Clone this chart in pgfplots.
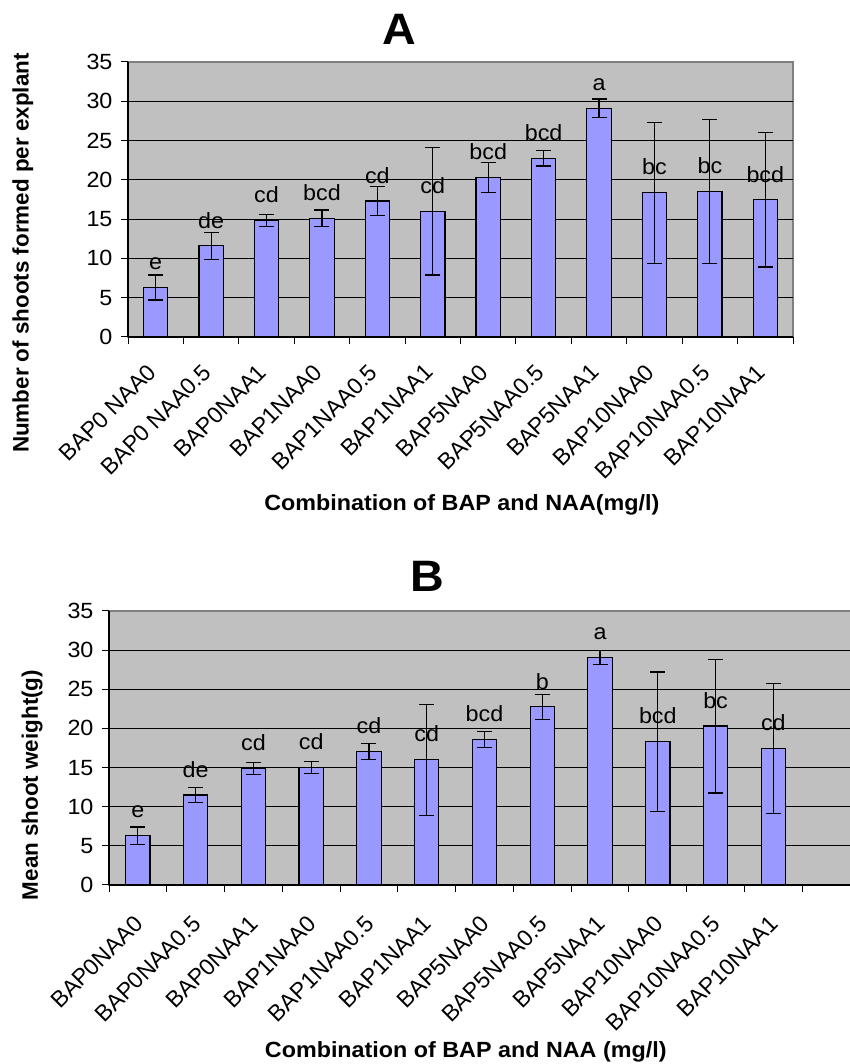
\documentclass[border=0pt]{standalone}
\usepackage{fontspec}
\setmainfont{Liberation Sans}
\newfontfamily\widefont[FakeStretch=1.06]{Liberation Sans}
\usepackage{pgfplots}
\usepackage{pgfplotstable}
\pgfplotsset{compat=1.18}
\definecolor{excelgray}{RGB}{192,192,192}
\definecolor{barblue}{RGB}{153,153,255}
\definecolor{framegray}{RGB}{128,128,128}

\pgfplotstableread{
x y e l
0 6.3 1.6 e
1 11.6 1.7 de
2 14.85 0.75 cd
3 15.1 1.05 bcd
4 17.3 1.85 cd
5 16.0 8.1 cd
6 20.3 1.9 bcd
7 22.75 1.0 bcd
8 29.1 1.2 a
9 18.35 8.95 bc
10 18.55 9.15 bc
11 17.45 8.55 bcd
}\dataA

\pgfplotstableread{
x y e l
0 6.3 1.1 e
1 11.5 1.0 de
2 14.85 0.75 cd
3 15.0 0.8 cd
4 17.05 1.0 cd
5 16.0 7.1 cd
6 18.6 1.0 bcd
7 22.75 1.6 b
8 29.05 0.9 a
9 18.3 8.9 bcd
10 20.3 8.55 bc
11 17.45 8.3 cd
}\dataB

\pgfplotsset{
  excelbars/.style={
    scale only axis,
    ymin=0, ymax=35,
    ytick={0,5,...,30},
    extra y ticks={35},
    extra y tick style={grid=none},
    ymajorgrids,
    grid style={black, line width=0.9pt},
    axis x line*=bottom, axis y line*=left,
    axis line style={black, line width=1.2pt},
    axis background/.style={fill=excelgray, draw=framegray, line width=1.2pt},
    tick align=outside,
    major tick length=7pt, minor tick length=7pt,
    tick style={black, line width=1pt},
    major x tick style={draw=none},
    /pgf/number format/assume math mode=true,
    yticklabel style={font=\widefont\fontsize{22pt}{25pt}\selectfont, xshift=-5pt},
    xticklabel style={font=\fontsize{23pt}{26pt}\selectfont, inner sep=0pt, rotate=45, anchor=north east},
    xlabel style={font=\widefont\bfseries\fontsize{22pt}{26pt}\selectfont},
    ylabel style={font=\bfseries\fontsize{22.4pt}{26pt}\selectfont},
    title style={font=\widefont\bfseries\fontsize{44pt}{48pt}\selectfont, anchor=center},
    xtick={0,...,11},
  },
  excelseries/.style={
    ybar, bar width=24.3pt, fill=barblue, draw=black, line width=1.2pt,
    bar shift=0pt,
    point meta=explicit symbolic,
    nodes near coords,
    every node near coord/.append style={font=\widefont\fontsize{22pt}{25pt}\selectfont, text=black, inner sep=0pt, anchor=south, yshift=17pt},
    error bars/.cd, y dir=both, y explicit,
    error bar style={black, line width=1.2pt},
    error mark options={rotate=90, mark size=7.5pt, line width=1.2pt, black},
  },
}

\begin{document}
\begin{tikzpicture}
\path[use as bounding box] (0pt,0pt) rectangle (849pt,1064pt);

\begin{axis}[excelbars,
  at={(128pt,727pt)}, anchor=south west,
  width=665pt, height=275pt,
  xmin=-0.5, xmax=11.5,
  minor xtick={-0.5,0.5,...,11.5},
  xticklabel style={xshift=-20pt, yshift=-6pt},
  xticklabels={BAP0 NAA0,BAP0 NAA0.5,BAP0NAA1,BAP1NAA0,BAP1NAA0.5,BAP1NAA1,BAP5NAA0,BAP5NAA0.5,BAP5NAA1,BAP10NAA0,BAP10NAA0.5,BAP10NAA1},
  title={A}, title style={at={(axis description cs:0.4075,1.098)}},
  ylabel={Number of shoots formed per explant},
  ylabel style={at={(axis description cs:-0.158,0.305)}, anchor=center},
  xlabel={Combination of BAP and NAA(mg/l)},
  xlabel style={at={(axis description cs:0.502,-0.611)}, anchor=center},
]
\addplot[excelseries] table[x=x, y=y, y error=e, meta=l] {\dataA};
\end{axis}

\begin{axis}[excelbars,
  at={(109pt,179pt)}, anchor=south west,
  width=751pt, height=274pt,
  xmin=-0.5, xmax=12.5,
  minor xtick={-0.5,0.5,...,12.5},
  xticklabel style={xshift=-19pt, yshift=-12pt},
  xticklabels={BAP0NAA0,BAP0NAA0.5,BAP0NAA1,BAP1NAA0,BAP1NAA0.5,BAP1NAA1,BAP5NAA0,BAP5NAA0.5,BAP5NAA1,BAP10NAA0,BAP10NAA0.5,BAP10NAA1},
  title={B}, title style={at={(axis description cs:0.4234,1.106)}},
  ylabel={Mean shoot weight(g)},
  ylabel style={at={(axis description cs:-0.1025,0.365)}, anchor=center},
  xlabel={Combination of BAP and NAA (mg/l)},
  xlabel style={at={(axis description cs:0.475,-0.609)}, anchor=center},
]
\addplot[excelseries] table[x=x, y=y, y error=e, meta=l] {\dataB};
\end{axis}
\end{tikzpicture}
\end{document}
